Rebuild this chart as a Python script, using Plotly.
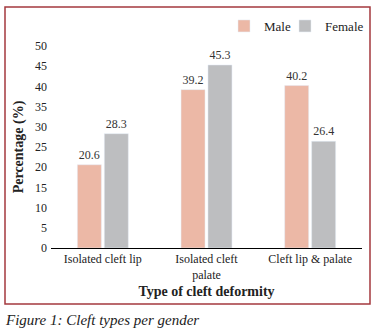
import plotly.graph_objects as go

categories = ["Isolated cleft lip", "Isolated cleft<br>palate", "Cleft lip & palate"]
male = [20.6, 39.2, 40.2]
female = [28.3, 45.3, 26.4]
y_ticks = list(range(0, 51, 5))

SERIF = "Liberation Serif, Times New Roman, serif"

fig = go.Figure()
fig.add_trace(go.Bar(x=categories, y=male, name="Male", marker_color="#ECB8A6",
                     text=[f"{v:.1f}" for v in male], textposition="outside", legend="legend",
                     textfont=dict(size=12, color="#333333", family=SERIF), cliponaxis=False))
fig.add_trace(go.Bar(x=categories, y=female, name="Female", marker_color="#BDBEC0",
                     text=[f"{v:.1f}" for v in female], textposition="outside", legend="legend2",
                     textfont=dict(size=12, color="#333333", family=SERIF), cliponaxis=False))

L, R, T, B = 51, 362, 46, 248
W, H = R - L, B - T

def px(x):
    return (x - L) / W

def py(y):
    return (B - y) / H

leg_common = dict(orientation="h", xanchor="left", yanchor="top", bgcolor="rgba(0,0,0,0)",
                  font=dict(size=13, family=SERIF, color="#222222"))

fig.update_layout(
    width=378, height=329,
    margin=dict(l=L, r=378 - R, t=T, b=329 - B, autoexpand=False),
    paper_bgcolor="white", plot_bgcolor="white",
    font=dict(family=SERIF, size=12, color="#222222"),
    barmode="group", bargap=0.48, bargroupgap=0.11,
    showlegend=True,
    legend=dict(x=px(224), y=py(11), **leg_common),
    legend2=dict(x=px(285), y=py(11), **leg_common),
    xaxis=dict(showline=True, linecolor="black", linewidth=1, ticks="", showgrid=False,
               tickfont=dict(size=12, family=SERIF, color="#222222"),
               title=dict(text="<b>Type of cleft deformity</b>", standoff=5,
                          font=dict(size=14, family=SERIF, color="#222222"))),
    yaxis=dict(range=[0, 50], tickvals=y_ticks, showgrid=False, zeroline=False, showline=False,
               ticks="", ticklabelstandoff=3,
               tickfont=dict(size=12, family=SERIF, color="#222222"),
               title=dict(text="<b>Percentage (%)</b>", standoff=8,
                          font=dict(size=14, family=SERIF, color="#222222"))),
    shapes=[dict(type="rect", xref="paper", yref="paper",
                 x0=px(5), x1=px(370), y0=py(304), y1=py(7),
                 line=dict(color="#A4393E", width=1.5), fillcolor="rgba(0,0,0,0)", layer="below")],
    annotations=[dict(text="<i>Figure 1: Cleft types per gender</i>", xref="paper", yref="paper",
                      x=px(3), y=py(320), xanchor="left", yanchor="middle", showarrow=False,
                      font=dict(size=15, family=SERIF, color="#222222"))],
)

fig.write_html("out.html", config={"displayModeBar": False},
               post_script="document.body.style.margin='0';")
